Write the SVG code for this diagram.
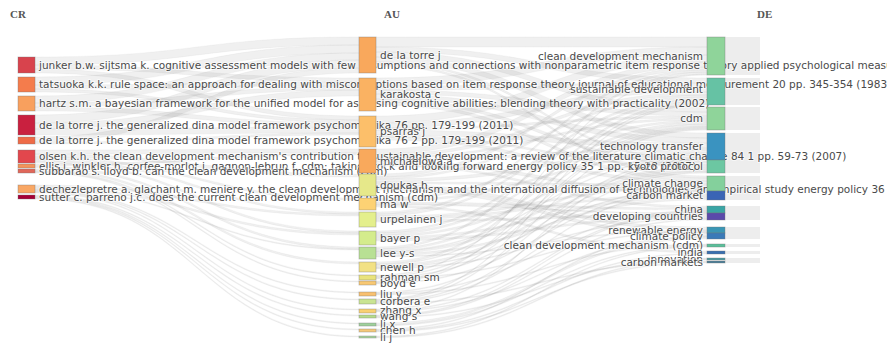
<svg xmlns="http://www.w3.org/2000/svg" width="887" height="350" viewBox="0 0 887 350">
<style>
.l{fill:#777;fill-opacity:.11;stroke:#999;stroke-opacity:.15;stroke-width:.5}
.n{stroke:#777;stroke-opacity:.45;stroke-width:.8}
.t{font-family:"DejaVu Sans","Open Sans",sans-serif;font-size:10.5px;fill:#4a4a4a;stroke:#fff;stroke-width:2;stroke-opacity:.6;paint-order:stroke;stroke-linejoin:round}
.e{text-anchor:end}
.h{font-family:"Liberation Serif",serif;font-size:11px;font-weight:bold;fill:#555}
.s{fill:#ededed}
</style>
<rect width="887" height="350" fill="#fff"/>
<text class="h" x="10" y="18">CR</text>
<text class="h" x="384" y="18">AU</text>
<text class="h" x="757" y="18">DE</text>
<g id="de-bands">
<rect class="s" x="725" y="37" width="35" height="38"/>
<rect class="s" x="725" y="78" width="35" height="27"/>
<rect class="s" x="725" y="107" width="35" height="23"/>
<rect class="s" x="725" y="133" width="35" height="40"/>
<rect class="s" x="725" y="176" width="35" height="24"/>
<rect class="s" x="725" y="206" width="35" height="14"/>
<rect class="s" x="725" y="227" width="35" height="12"/>
<rect class="s" x="725" y="244" width="35" height="3"/>
<rect class="s" x="725" y="251" width="35" height="3"/>
<rect class="s" x="725" y="258" width="35" height="5"/>
</g>
<g id="links">
<path class="l" d="M35 57C197 57 197 37 359 37V45C197 45 197 65 35 65Z"/>
<path class="l" d="M35 65C197 65 197 78 359 78V82C197 82 197 69 35 69Z"/>
<path class="l" d="M35 69C197 69 197 116 359 116V120C197 120 197 73 35 73Z"/>
<path class="l" d="M35 77C197 77 197 45 359 45V53C197 53 197 85 35 85Z"/>
<path class="l" d="M35 85C197 85 197 82 359 82V86C197 86 197 89 35 89Z"/>
<path class="l" d="M35 89C197 89 197 120 359 120V123C197 123 197 92 35 92Z"/>
<path class="l" d="M35 96C197 96 197 53 359 53V60C197 60 197 103 35 103Z"/>
<path class="l" d="M35 103C197 103 197 86 359 86V90C197 90 197 107 35 107Z"/>
<path class="l" d="M35 107C197 107 197 123 359 123V127C197 127 197 111 35 111Z"/>
<path class="l" d="M35 115C197 115 197 60 359 60V68C197 68 197 123 35 123Z"/>
<path class="l" d="M35 123C197 123 197 90 359 90V96C197 96 197 129 35 129Z"/>
<path class="l" d="M35 129C197 129 197 127 359 127V133C197 133 197 135 35 135Z"/>
<path class="l" d="M35 137C197 137 197 68 359 68V73C197 73 197 142 35 142Z"/>
<path class="l" d="M35 142C197 142 197 133 359 133V135C197 135 197 144 35 144Z"/>
<path class="l" d="M35 150C197 150 197 149 359 149V153C197 153 197 154 35 154Z"/>
<path class="l" d="M35 154C197 154 197 174 359 174V177C197 177 197 157 35 157Z"/>
<path class="l" d="M35 157C197 157 197 198 359 198V200C197 200 197 159 35 159Z"/>
<path class="l" d="M35 159C197 159 197 212 359 212V214C197 214 197 161 35 161Z"/>
<path class="l" d="M35 161C197 161 197 231 359 231V233C197 233 197 163 35 163Z"/>
<path class="l" d="M35 164C197 164 197 153 359 153V155C197 155 197 166 35 166Z"/>
<path class="l" d="M35 166C197 166 197 247 359 247V249C197 249 197 168 35 168Z"/>
<path class="l" d="M35 169C197 169 197 262 359 262V264C197 264 197 171 35 171Z"/>
<path class="l" d="M35 171C197 171 197 275 359 275V276C197 276 197 172 35 172Z"/>
<path class="l" d="M35 172C197 172 197 281 359 281V282C197 282 197 173 35 173Z"/>
<path class="l" d="M35 185C197 185 197 214 359 214V216C197 216 197 187 35 187Z"/>
<path class="l" d="M35 187C197 187 197 233 359 233V235C197 235 197 189 35 189Z"/>
<path class="l" d="M35 189C197 189 197 249 359 249V250C197 250 197 190 35 190Z"/>
<path class="l" d="M35 190C197 190 197 292 359 292V293C197 293 197 191 35 191Z"/>
<path class="l" d="M35 191C197 191 197 299 359 299V300C197 300 197 192 35 192Z"/>
<path class="l" d="M35 192C197 192 197 309 359 309V310C197 310 197 193 35 193Z"/>
<path class="l" d="M35 195C197 195 197 315 359 315V316C197 316 197 196 35 196Z"/>
<path class="l" d="M35 196C197 196 197 323 359 323V324C197 324 197 197 35 197Z"/>
<path class="l" d="M35 197C197 197 197 329 359 329V330C197 330 197 198 35 198Z"/>
<path class="l" d="M35 198C197 198 197 336 359 336V337C197 337 197 199 35 199Z"/>
<path class="l" d="M376 37C541 37 541 37 707 37V47C541 47 541 47 376 47Z"/>
<path class="l" d="M376 47C541 47 541 78 707 78V83C541 83 541 52 376 52Z"/>
<path class="l" d="M376 52C541 52 541 107 707 107V112C541 112 541 57 376 57Z"/>
<path class="l" d="M376 57C541 57 541 133 707 133V138C541 138 541 62 376 62Z"/>
<path class="l" d="M376 62C541 62 541 160 707 160V162C541 162 541 64 376 64Z"/>
<path class="l" d="M376 64C541 64 541 176 707 176V178C541 178 541 66 376 66Z"/>
<path class="l" d="M376 78C541 78 541 47 707 47V55C541 55 541 86 376 86Z"/>
<path class="l" d="M376 86C541 86 541 83 707 83V87C541 87 541 90 376 90Z"/>
<path class="l" d="M376 90C541 90 541 112 707 112V116C541 116 541 94 376 94Z"/>
<path class="l" d="M376 94C541 94 541 138 707 138V143C541 143 541 99 376 99Z"/>
<path class="l" d="M376 99C541 99 541 162 707 162V165C541 165 541 102 376 102Z"/>
<path class="l" d="M376 102C541 102 541 178 707 178V181C541 181 541 105 376 105Z"/>
<path class="l" d="M376 116C541 116 541 55 707 55V62C541 62 541 123 376 123Z"/>
<path class="l" d="M376 123C541 123 541 87 707 87V92C541 92 541 128 376 128Z"/>
<path class="l" d="M376 128C541 128 541 116 707 116V118C541 118 541 130 376 130Z"/>
<path class="l" d="M376 130C541 130 541 143 707 143V148C541 148 541 135 376 135Z"/>
<path class="l" d="M376 135C541 135 541 165 707 165V167C541 167 541 137 376 137Z"/>
<path class="l" d="M376 137C541 137 541 181 707 181V184C541 184 541 140 376 140Z"/>
<path class="l" d="M376 149C541 149 541 62 707 62V67C541 67 541 154 376 154Z"/>
<path class="l" d="M376 154C541 154 541 92 707 92V95C541 95 541 157 376 157Z"/>
<path class="l" d="M376 157C541 157 541 118 707 118V120C541 120 541 159 376 159Z"/>
<path class="l" d="M376 159C541 159 541 148 707 148V150C541 150 541 161 376 161Z"/>
<path class="l" d="M376 161C541 161 541 191 707 191V194C541 194 541 164 376 164Z"/>
<path class="l" d="M376 164C541 164 541 206 707 206V208C541 208 541 166 376 166Z"/>
<path class="l" d="M376 174C541 174 541 67 707 67V70C541 70 541 177 376 177Z"/>
<path class="l" d="M376 177C541 177 541 95 707 95V97C541 97 541 179 376 179Z"/>
<path class="l" d="M376 179C541 179 541 150 707 150V153C541 153 541 182 376 182Z"/>
<path class="l" d="M376 182C541 182 541 184 707 184V186C541 186 541 184 376 184Z"/>
<path class="l" d="M376 184C541 184 541 227 707 227V230C541 230 541 187 376 187Z"/>
<path class="l" d="M376 187C541 187 541 233 707 233V236C541 236 541 190 376 190Z"/>
<path class="l" d="M376 198C541 198 541 120 707 120V122C541 122 541 200 376 200Z"/>
<path class="l" d="M376 200C541 200 541 153 707 153V155C541 155 541 202 376 202Z"/>
<path class="l" d="M376 202C541 202 541 208 707 208V210C541 210 541 204 376 204Z"/>
<path class="l" d="M376 204C541 204 541 213 707 213V214C541 214 541 205 376 205Z"/>
<path class="l" d="M376 205C541 205 541 251 707 251V253C541 253 541 207 376 207Z"/>
<path class="l" d="M376 212C541 212 541 70 707 70V72C541 72 541 214 376 214Z"/>
<path class="l" d="M376 214C541 214 541 97 707 97V99C541 99 541 216 376 216Z"/>
<path class="l" d="M376 216C541 216 541 186 707 186V188C541 188 541 218 376 218Z"/>
<path class="l" d="M376 218C541 218 541 194 707 194V196C541 196 541 220 376 220Z"/>
<path class="l" d="M376 220C541 220 541 214 707 214V216C541 216 541 222 376 222Z"/>
<path class="l" d="M376 231C541 231 541 99 707 99V101C541 101 541 233 376 233Z"/>
<path class="l" d="M376 233C541 233 541 122 707 122V124C541 124 541 235 376 235Z"/>
<path class="l" d="M376 235C541 235 541 155 707 155V157C541 157 541 237 376 237Z"/>
<path class="l" d="M376 237C541 237 541 196 707 196V198C541 198 541 239 376 239Z"/>
<path class="l" d="M376 239C541 239 541 216 707 216V218C541 218 541 241 376 241Z"/>
<path class="l" d="M376 247C541 247 541 72 707 72V74C541 74 541 249 376 249Z"/>
<path class="l" d="M376 249C541 249 541 124 707 124V126C541 126 541 251 376 251Z"/>
<path class="l" d="M376 251C541 251 541 157 707 157V158C541 158 541 252 376 252Z"/>
<path class="l" d="M376 252C541 252 541 167 707 167V169C541 169 541 254 376 254Z"/>
<path class="l" d="M376 254C541 254 541 198 707 198V200C541 200 541 256 376 256Z"/>
<path class="l" d="M376 256C541 256 541 230 707 230V231C541 231 541 257 376 257Z"/>
<path class="l" d="M376 262C541 262 541 101 707 101V103C541 103 541 264 376 264Z"/>
<path class="l" d="M376 264C541 264 541 126 707 126V127C541 127 541 265 376 265Z"/>
<path class="l" d="M376 265C541 265 541 169 707 169V171C541 171 541 267 376 267Z"/>
<path class="l" d="M376 267C541 267 541 188 707 188V189C541 189 541 268 376 268Z"/>
<path class="l" d="M376 268C541 268 541 218 707 218V219C541 219 541 269 376 269Z"/>
<path class="l" d="M376 275C541 275 541 74 707 74V75C541 75 541 276 376 276Z"/>
<path class="l" d="M376 276C541 276 541 127 707 127V128C541 128 541 277 376 277Z"/>
<path class="l" d="M376 277C541 277 541 171 707 171V172C541 172 541 278 376 278Z"/>
<path class="l" d="M376 278C541 278 541 231 707 231V232C541 232 541 279 376 279Z"/>
<path class="l" d="M376 281C541 281 541 103 707 103V104C541 104 541 282 376 282Z"/>
<path class="l" d="M376 282C541 282 541 128 707 128V129C541 129 541 283 376 283Z"/>
<path class="l" d="M376 283C541 283 541 189 707 189V190C541 190 541 284 376 284Z"/>
<path class="l" d="M376 292C541 292 541 158 707 158V159C541 159 541 293 376 293Z"/>
<path class="l" d="M376 293C541 293 541 210 707 210V211C541 211 541 294 376 294Z"/>
<path class="l" d="M376 294C541 294 541 244 707 244V245C541 245 541 295 376 295Z"/>
<path class="l" d="M376 299C541 299 541 104 707 104V105C541 105 541 300 376 300Z"/>
<path class="l" d="M376 300C541 300 541 129 707 129V130C541 130 541 301 376 301Z"/>
<path class="l" d="M376 301C541 301 541 172 707 172V173C541 173 541 302 376 302Z"/>
<path class="l" d="M376 302C541 302 541 190 707 190V191C541 191 541 303 376 303Z"/>
<path class="l" d="M376 303C541 303 541 261 707 261V262C541 262 541 304 376 304Z"/>
<path class="l" d="M376 309C541 309 541 159 707 159V160C541 160 541 310 376 310Z"/>
<path class="l" d="M376 310C541 310 541 211 707 211V212C541 212 541 311 376 311Z"/>
<path class="l" d="M376 311C541 311 541 236 707 236V237C541 237 541 312 376 312Z"/>
<path class="l" d="M376 315C541 315 541 212 707 212V213C541 213 541 316 376 316Z"/>
<path class="l" d="M376 316C541 316 541 219 707 219V220C541 220 541 317 376 317Z"/>
<path class="l" d="M376 317C541 317 541 258 707 258V259C541 259 541 318 376 318Z"/>
<path class="l" d="M376 323C541 323 541 237 707 237V239C541 239 541 325 376 325Z"/>
<path class="l" d="M376 325C541 325 541 245 707 245V246C541 246 541 326 376 326Z"/>
<path class="l" d="M376 329C541 329 541 232 707 232V233C541 233 541 330 376 330Z"/>
<path class="l" d="M376 330C541 330 541 253 707 253V254C541 254 541 331 376 331Z"/>
<path class="l" d="M376 331C541 331 541 262 707 262V263C541 263 541 332 376 332Z"/>
<path class="l" d="M376 336C541 336 541 246 707 246V247C541 247 541 337 376 337Z"/>
<path class="l" d="M376 337C541 337 541 259 707 259V260C541 260 541 338 376 338Z"/>
</g>
<g id="cr-junker"><rect class="n" x="18" y="57" width="17" height="16" fill="#d8434d"/><text class="t" x="39" y="68.5">junker b.w. sijtsma k. cognitive assessment models with few assumptions and connections with nonparametric item response theory applied psychological measurement</text></g>
<g id="cr-tatsuoka"><rect class="n" x="18" y="77" width="17" height="15" fill="#f47c4c"/><text class="t" x="39" y="88">tatsuoka k.k. rule space: an approach for dealing with misconceptions based on item response theory journal of educational measurement 20 pp. 345-354 (1983)</text></g>
<g id="cr-hartz"><rect class="n" x="18" y="96" width="17" height="15" fill="#f8a05e"/><text class="t" x="39" y="107">hartz s.m. a bayesian framework for the unified model for assessing cognitive abilities: blending theory with practicality (2002)</text></g>
<g id="cr-delatorre1"><rect class="n" x="18" y="115" width="17" height="20" fill="#c9203f"/><text class="t" x="39" y="128.5">de la torre j. the generalized dina model framework psychometrika 76 pp. 179-199 (2011)</text></g>
<g id="cr-delatorre2"><rect class="n" x="18" y="137" width="17" height="7" fill="#ee6b47"/><text class="t" x="39" y="144">de la torre j. the generalized dina model framework psychometrika 76 2 pp. 179-199 (2011)</text></g>
<g id="cr-olsen"><rect class="n" x="18" y="150" width="17" height="13" fill="#e2474d"/><text class="t" x="39" y="160">olsen k.h. the clean development mechanism's contribution to sustainable development: a review of the literature climatic change 84 1 pp. 59-73 (2007)</text></g>
<g id="cr-ellis"><rect class="n" x="18" y="164" width="17" height="4" fill="#f4935a"/><text class="t" x="39" y="169.5">ellis j. winkler h. corfee-morlot j. gagnon-lebrun f. cdm: taking stock and looking forward energy policy 35 1 pp. 15-28 (2007)</text></g>
<g id="cr-subbarao"><rect class="n" x="18" y="169" width="17" height="4" fill="#e0675a"/><text class="t" x="39" y="175">subbarao s. lloyd b. can the clean development mechanism (cdm)</text></g>
<g id="cr-dechezlepretre"><rect class="n" x="18" y="185" width="17" height="8" fill="#f9a764"/><text class="t" x="39" y="192.5">dechezlepretre a. glachant m. meniere y. the clean development mechanism and the international diffusion of technologies: an empirical study energy policy 36 4 pp. 1273-1283 (2008)</text></g>
<g id="cr-sutter"><rect class="n" x="18" y="195" width="17" height="4" fill="#a50037"/><text class="t" x="39" y="200.5">sutter c. parreno j.c. does the current clean development mechanism (cdm)</text></g>
<g id="au-delatorre"><rect class="n" x="359" y="37" width="17" height="36" fill="#f9a85c"/><text class="t" x="380" y="58.5">de la torre j</text></g>
<g id="au-karakosta"><rect class="n" x="359" y="78" width="17" height="33" fill="#fab262"/><text class="t" x="380" y="97.5">karakosta c</text></g>
<g id="au-psarras"><rect class="n" x="359" y="116" width="17" height="31" fill="#fcbf6a"/><text class="t" x="380" y="135">psarras j</text></g>
<g id="au-michaelowa"><rect class="n" x="359" y="149" width="17" height="24" fill="#f9a95c"/><text class="t" x="380" y="164.5">michaelowa a</text></g>
<g id="au-doukas"><rect class="n" x="359" y="174" width="17" height="22" fill="#e6e88a"/><text class="t" x="380" y="188.5">doukas h</text></g>
<g id="au-maw"><rect class="n" x="359" y="198" width="17" height="12" fill="#fdd274"/><text class="t" x="380" y="207.5">ma w</text></g>
<g id="au-urpelainen"><rect class="n" x="359" y="212" width="17" height="15" fill="#e4ef8c"/><text class="t" x="380" y="223">urpelainen j</text></g>
<g id="au-bayer"><rect class="n" x="359" y="231" width="17" height="14" fill="#d4ec8c"/><text class="t" x="380" y="241.5">bayer p</text></g>
<g id="au-lee"><rect class="n" x="359" y="247" width="17" height="12" fill="#b8e094"/><text class="t" x="380" y="256.5">lee y-s</text></g>
<g id="au-newell"><rect class="n" x="359" y="262" width="17" height="10" fill="#f2e184"/><text class="t" x="380" y="270.5">newell p</text></g>
<g id="au-rahman"><rect class="n" x="359" y="275" width="17" height="5" fill="#e9e37c"/><text class="t" x="380" y="281">rahman sm</text></g>
<g id="au-boyd"><rect class="n" x="359" y="281" width="17" height="4" fill="#f8c873"/><text class="t" x="380" y="287">boyd e</text></g>
<g id="au-liu"><rect class="n" x="359" y="292" width="17" height="4" fill="#f8c070"/><text class="t" x="380" y="298">liu y</text></g>
<g id="au-corbera"><rect class="n" x="359" y="299" width="17" height="5" fill="#c9e492"/><text class="t" x="380" y="305">corbera e</text></g>
<g id="au-zhang"><rect class="n" x="359" y="309" width="17" height="4" fill="#f8d072"/><text class="t" x="380" y="313.5">zhang x</text></g>
<g id="au-wang"><rect class="n" x="359" y="315" width="17" height="3" fill="#b6dc8a"/><text class="t" x="380" y="320">wang s</text></g>
<g id="au-lix"><rect class="n" x="359" y="323" width="17" height="3" fill="#9fd09c"/><text class="t" x="380" y="327.5">li x</text></g>
<g id="au-chen"><rect class="n" x="359" y="329" width="17" height="3" fill="#f5c87a"/><text class="t" x="380" y="334">chen h</text></g>
<g id="au-lij"><rect class="n" x="359" y="336" width="17" height="2" fill="#a8d49e"/><text class="t" x="380" y="340.5">li j</text></g>
<g id="de-cdm-mechanism"><rect class="n" x="707" y="37" width="18" height="38" fill="#8fd49a"/><text class="t e" x="703" y="59.5">clean development mechanism</text></g>
<g id="de-sustainable"><rect class="n" x="707" y="78" width="18" height="27" fill="#66c2a4"/><text class="t e" x="703" y="93">sustainable development</text></g>
<g id="de-cdm"><rect class="n" x="707" y="107" width="18" height="23" fill="#8fd49a"/><text class="t e" x="703" y="122">cdm</text></g>
<g id="de-technology"><rect class="n" x="707" y="133" width="18" height="27" fill="#3a93c0"/><text class="t e" x="703" y="150">technology transfer</text></g>
<g id="de-kyoto"><rect class="n" x="707" y="160" width="18" height="13" fill="#6cc7a2"/><text class="t e" x="703" y="170">kyoto protocol</text></g>
<g id="de-climate-change"><rect class="n" x="707" y="176" width="18" height="15" fill="#84d09c"/><text class="t e" x="703" y="187">climate change</text></g>
<g id="de-carbon-market"><rect class="n" x="707" y="191" width="18" height="9" fill="#3a64b5"/><text class="t e" x="703" y="199">carbon market</text></g>
<g id="de-china"><rect class="n" x="707" y="206" width="18" height="7" fill="#3aa5a5"/><text class="t e" x="703" y="213">china</text></g>
<g id="de-developing"><rect class="n" x="707" y="213" width="18" height="7" fill="#5a4aaa"/><text class="t e" x="703" y="220">developing countries</text></g>
<g id="de-renewable"><rect class="n" x="707" y="227" width="18" height="6" fill="#3a96b5"/><text class="t e" x="703" y="233.5">renewable energy</text></g>
<g id="de-climate-policy"><rect class="n" x="707" y="233" width="18" height="6" fill="#3a7ab8"/><text class="t e" x="703" y="239.5">climate policy</text></g>
<g id="de-cdm-cdm"><rect class="n" x="707" y="244" width="18" height="3" fill="#5abf9a"/><text class="t e" x="703" y="249">clean development mechanism (cdm)</text></g>
<g id="de-india"><rect class="n" x="707" y="251" width="18" height="3" fill="#3a70b0"/><text class="t e" x="703" y="256">india</text></g>
<g id="de-innovation"><rect class="n" x="707" y="258" width="18" height="2" fill="#4a9aa0"/><text class="t e" x="703" y="262.5">innovation</text></g>
<g id="de-carbon-markets"><rect class="n" x="707" y="261" width="18" height="2" fill="#4a7e98"/><text class="t e" x="703" y="265.5">carbon markets</text></g>
</svg>
